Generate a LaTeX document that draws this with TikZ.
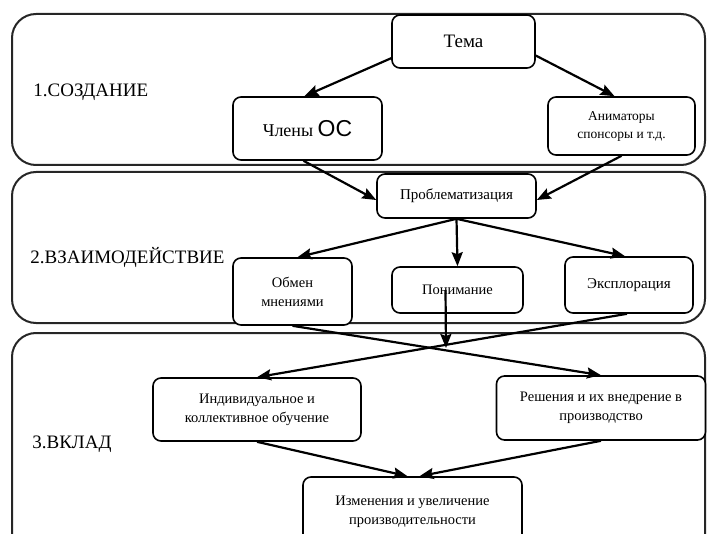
\documentclass[tikz,border=0pt]{standalone}
\usepackage{fontspec}
\setmainfont{Liberation Serif}
\newfontfamily\sansOC{Liberation Sans}
\usetikzlibrary{arrows.meta}

\begin{document}
\begin{tikzpicture}[x=1pt, y=-1pt, >={Stealth[length=14pt,width=11pt,inset=2pt]}, thick,
  panel/.style={draw=black!85, line width=2pt, rounded corners=24pt},
  block/.style={draw, fill=white, line width=1.6pt, rounded corners=8pt, align=center, inner sep=2pt, font=\fontsize{14.5}{19}\selectfont},
  stage/.style={anchor=base west, inner sep=0pt, font=\fontsize{19}{23}\selectfont},
  link/.style={->, line width=2.2pt}]
  \useasboundingbox (0,0) rectangle (708,534);
  \clip (0,0) rectangle (708,534);
  \draw[panel] (12,14) rectangle (705,165);
  \draw[panel] (12,172) rectangle (705,323);
  \draw[panel] (12,333) rectangle (705,580);

  \node (s1) [stage] at (33,97) {1.СОЗДАНИЕ};
  \node (s2) [stage] at (30,263) {2.ВЗАИМОДЕЙСТВИЕ};
  \node (s3) [stage] at (32,448) {3.ВКЛАД};

  \node (tema) [block, minimum width=143, minimum height=53, font=\fontsize{19}{23}\selectfont] at (463.5,41.5) {Тема};
  \node (chleny) [block, minimum width=149, minimum height=63, font=\fontsize{18}{22}\selectfont] at (307.5,128.5) {Члены {\sansOC\fontsize{23}{26}\selectfont ОС}};
  \node (anim) [block, minimum width=147, minimum height=58, font=\fontsize{13.5}{18}\selectfont] at (621.5,126) {Аниматоры\\спонсоры и т.д.};
  \node (problem) [block, minimum width=159, minimum height=44, font=\fontsize{15}{19}\selectfont] at (456.5,196) {Проблематизация};
  \node (obmen) [block, minimum width=119, minimum height=67] at (292.5,291.5) {Обмен\\мнениями};
  \node (ponim) [block, minimum width=131, minimum height=46] at (457.5,290) {Понимание};
  \node (explor) [block, minimum width=128, minimum height=56, font=\fontsize{15}{19}\selectfont] at (629,285) {Эксплорация};
  \node (indiv) [block, minimum width=208, minimum height=63] at (257,409.5) {Индивидуальное и\\коллективное обучение};
  \node (resh) [block, minimum width=209, minimum height=64] at (601,408) {Решения и их внедрение в\\производство};
  \node (izm) [block, minimum width=219, minimum height=69] at (412.5,511.5) {Изменения и увеличение\\производительности};
  \coordinate (merge) at (446,348);

  \draw[link] (tema.193) -- ([xshift=-3pt]chleny.north);
  \draw[link] (tema.349) -- ([xshift=-7pt]anim.north);
  \draw[link] ([xshift=-4pt]chleny.south) -- ([yshift=-4pt]problem.west);
  \draw[link] (anim.south) -- ([yshift=-4pt]problem.east);
  \draw[link] (problem.south) -- ([xshift=5pt]obmen.north);
  \draw[link] (problem.south) -- (ponim.north);
  \draw[link] (problem.south) -- ([xshift=-4pt]explor.north);
  \draw[link] ([xshift=-12pt]ponim.center) -- (merge);
  \draw[link] (obmen.south) -- (resh.north);
  \draw[link] ([xshift=-2pt]explor.south) -- (indiv.north);
  \draw[link] (indiv.south) -- ([xshift=-5pt]izm.north);
  \draw[link] (resh.south) -- ([xshift=7pt]izm.north);
\end{tikzpicture}
\end{document}
